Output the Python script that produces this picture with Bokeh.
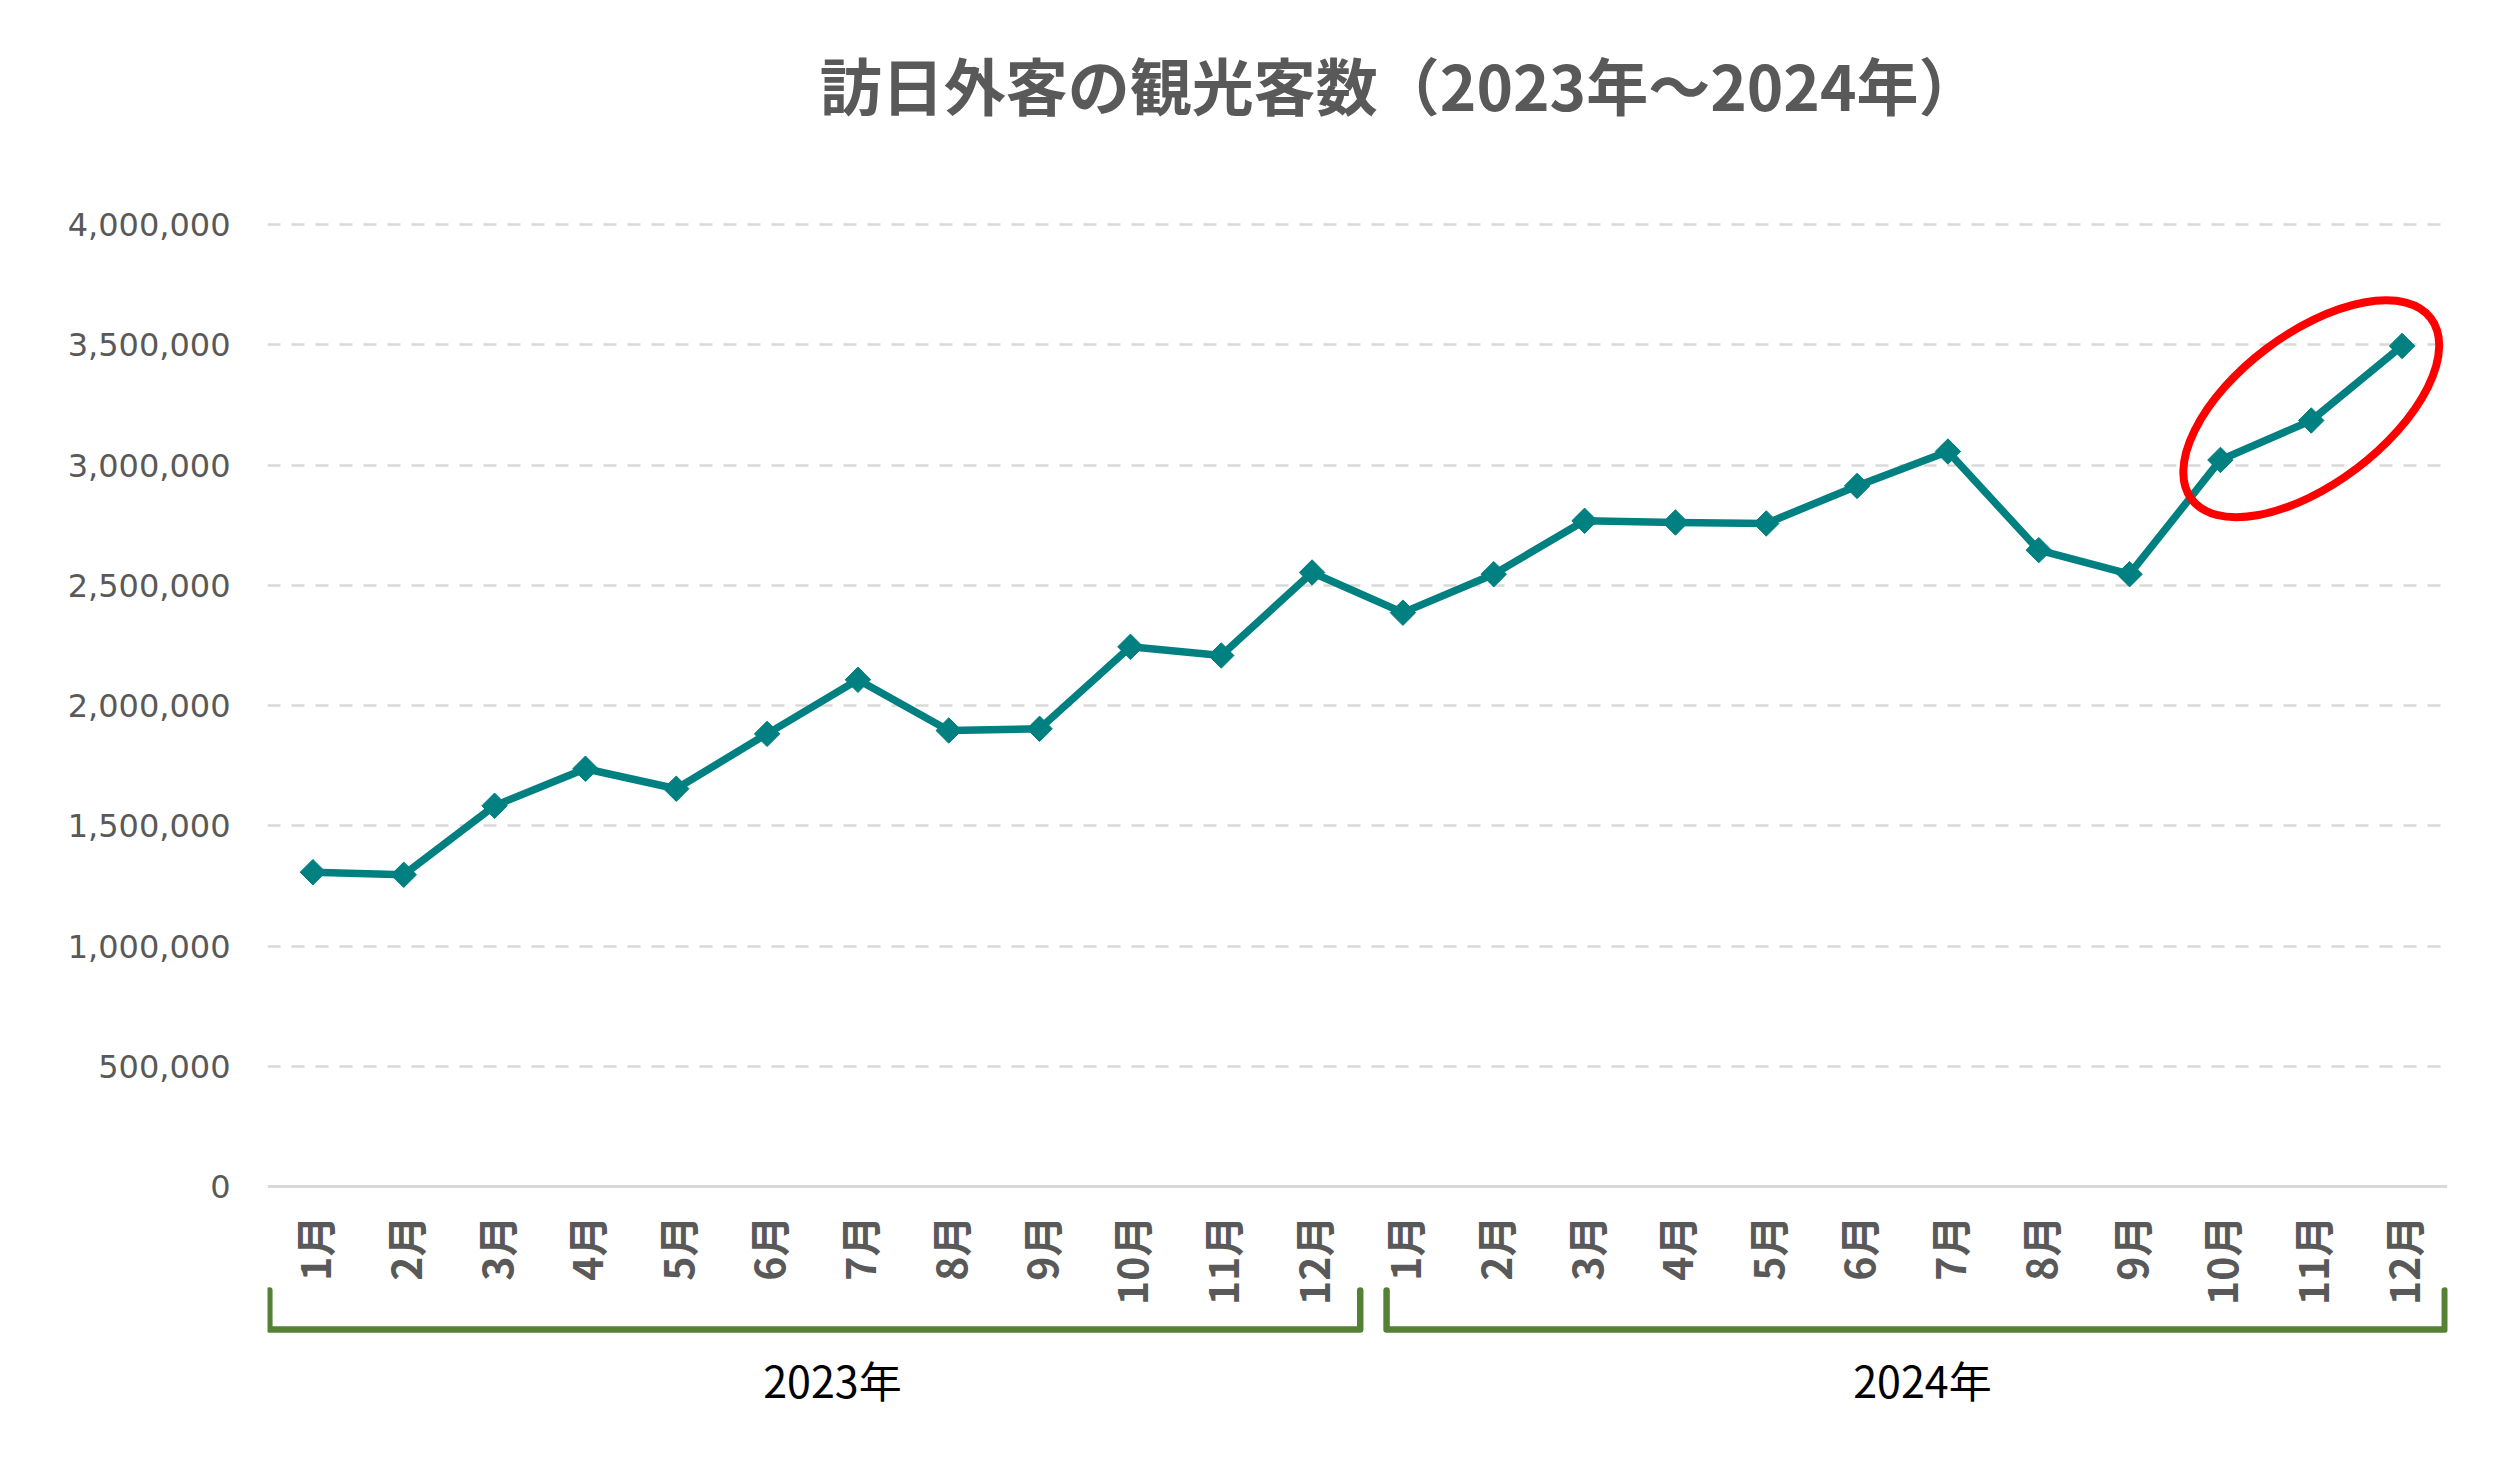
import math
from bokeh.plotting import figure
from bokeh.models import Range1d, FixedTicker, NumeralTickFormatter
from bokeh.core.properties import value
from bokeh.embed import file_html
from bokeh.resources import INLINE

# ---------------- data ----------------
title_text = "訪日外客の観光客数（2023年～2024年）"
years = ["2023年", "2024年"]
months = ["1月", "2月", "3月", "4月", "5月", "6月",
          "7月", "8月", "9月", "10月", "11月", "12月"]
visitors_2023 = [1307000, 1296000, 1583000, 1737000, 1654000, 1882000,
                 2107000, 1896000, 1903000, 2244000, 2208000, 2553000]
visitors_2024 = [2386000, 2546000, 2768000, 2761000, 2757000, 2913000,
                 3056000, 2646000, 2546000, 3021000, 3185000, 3495000]
y_ticks = [0, 500000, 1000000, 1500000, 2000000,
           2500000, 3000000, 3500000, 4000000]
highlight_count = 3  # last months circled in red

# ---------------- derived ----------------
month_labels = months + months
values = visitors_2023 + visitors_2024
xs = list(range(len(values)))
n_per_year = len(months)

# ---------------- styles ----------------
TEAL = "#008080"
GREY_TXT = "#595959"
GRID = "#D9D9D9"
GREEN = "#548235"
CJK = "Noto Sans CJK JP"

# layout helpers (pixel positions converted to value units)
PX_PER_M = 240.5            # pixels per 1,000,000
ZERO_PX, FRAME_H = 1186, 1445


def px_to_val(py):
    return (ZERO_PX - py) / PX_PER_M * 1e6


p = figure(width=2480, height=1452, output_backend="svg", toolbar_location=None,
           x_range=Range1d(-0.5, len(values) - 0.5),
           y_range=Range1d(px_to_val(FRAME_H), px_to_val(0)),
           min_border_left=267, min_border_right=33,
           min_border_top=0, min_border_bottom=7)
p.outline_line_color = None
p.background_fill_color = "white"
p.border_fill_color = "white"

# y axis
p.yaxis.ticker = FixedTicker(ticks=y_ticks)
p.yaxis.formatter = NumeralTickFormatter(format="0,0")
p.yaxis.axis_line_color = None
p.yaxis.major_tick_line_color = None
p.yaxis.minor_tick_line_color = None
p.yaxis.major_tick_out = 0
p.yaxis.major_tick_in = 0
p.yaxis.major_label_standoff = 37
p.yaxis.major_label_text_font = "DejaVu Sans"
p.yaxis.major_label_text_font_size = "32px"
p.yaxis.major_label_text_color = GREY_TXT

# x axis at y = 0
p.xaxis.ticker = FixedTicker(ticks=xs)
p.xaxis.major_label_overrides = {i: lab for i, lab in zip(xs, month_labels)}
p.xaxis.fixed_location = 0
p.xaxis.axis_line_color = GRID
p.xaxis.axis_line_width = 3
p.xaxis.major_tick_line_color = None
p.xaxis.minor_tick_line_color = None
p.xaxis.major_tick_out = 0
p.xaxis.major_tick_in = 0
p.xaxis.major_label_orientation = math.pi / 2
p.xaxis.major_label_standoff = 29
p.xaxis.major_label_text_font = CJK
p.xaxis.major_label_text_font_style = "bold"
p.xaxis.major_label_text_font_size = "41px"
p.xaxis.major_label_text_color = GREY_TXT

# grid
p.xgrid.visible = False
p.ygrid.ticker = FixedTicker(ticks=y_ticks[1:])
p.ygrid.grid_line_color = GRID
p.ygrid.grid_line_width = 2.5
p.ygrid.grid_line_dash = "13 11"

# title
p.text(x=[(len(values) - 1) / 2 + 0.47], y=[px_to_val(83)], text=[title_text],
       text_align="center", text_baseline="middle",
       text_font=value(CJK), text_font_style="bold", text_font_size="62px",
       text_color=GREY_TXT)

# series
p.line(xs, values, line_color=TEAL, line_width=7.5, line_join="round")
p.scatter(xs, values, marker="square", size=18, angle=math.pi / 4,
          fill_color=TEAL, line_color=TEAL)

# red highlight ellipse around the last months
cx = sum(xs[-highlight_count:]) / highlight_count
cy = sum(values[-highlight_count:]) / highlight_count
p.ellipse(x=[cx], y=[cy], width=300, height=150, angle=0.647,
          width_units="screen", height_units="screen",
          fill_color=None, line_color="#FF0000", line_width=8)

# year brackets and labels
BR_TOP, BR_BOTTOM, YEAR_Y = px_to_val(1290), px_to_val(1329), px_to_val(1378)
bracket_pads = [(-0.48, 0.53), (-0.18, 0.47)]
label_shift = 0.22
for g, (pl, pr) in enumerate(bracket_pads):
    first = xs[g * n_per_year]
    last = xs[(g + 1) * n_per_year - 1]
    a, b = first + pl, last + pr
    p.line([a, a, b, b], [BR_TOP, BR_BOTTOM, BR_BOTTOM, BR_TOP],
           line_color=GREEN, line_width=6.5, line_join="round", line_cap="round")
    p.text(x=[(first + last) / 2 + label_shift], y=[YEAR_Y], text=[years[g]],
           text_align="center", text_baseline="middle",
           text_font=value(CJK), text_font_size="43px", text_color="black")

open("out.html", "w").write(file_html(p, INLINE))
